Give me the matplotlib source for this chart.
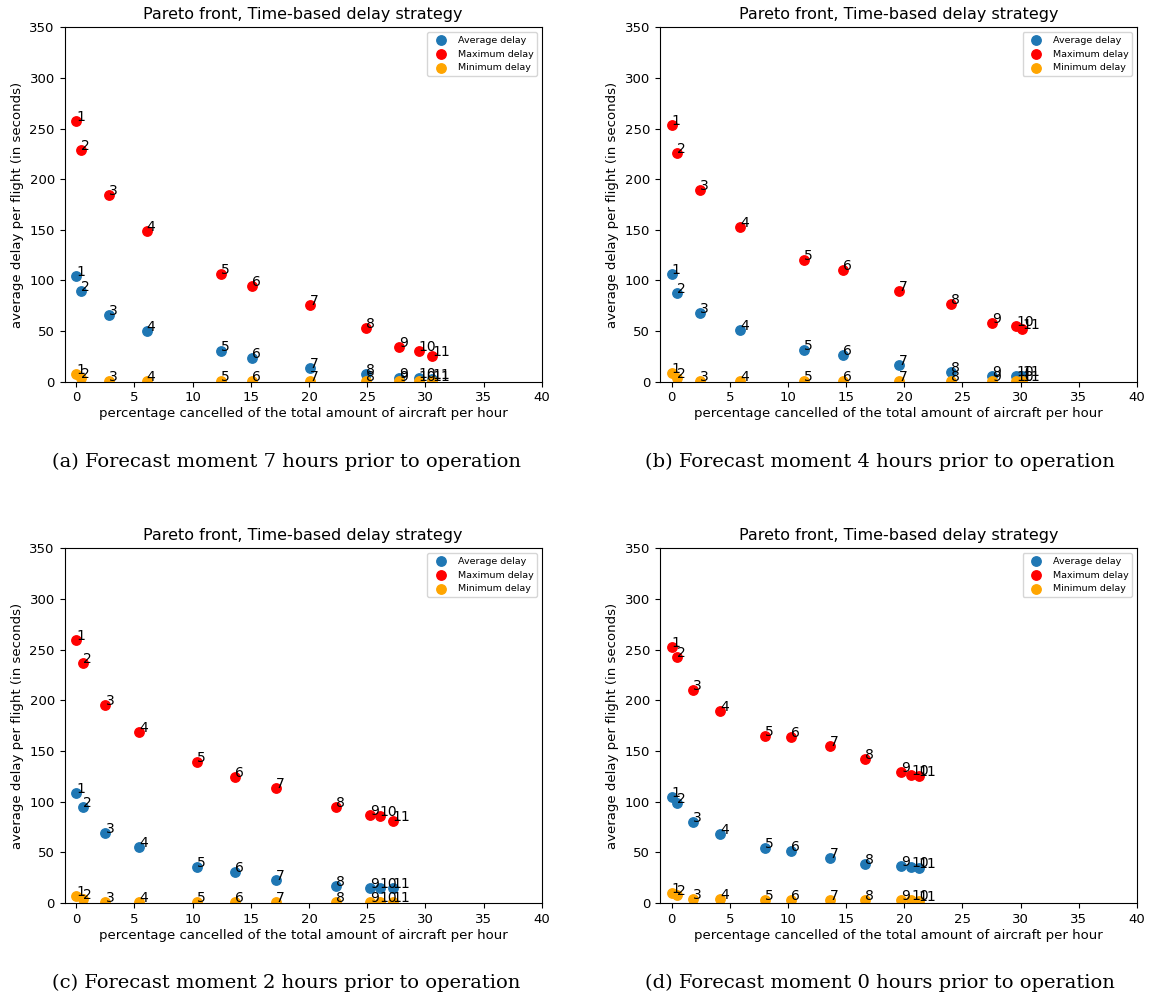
import matplotlib
matplotlib.use("Agg")
import matplotlib.pyplot as plt

# point labels 1..11
labels = [str(i) for i in range(1, 12)]

# (a) 7 hours prior
x_a = [0, 0.46, 2.85, 6.05, 12.43, 15.07, 20.1, 24.9, 27.72, 29.44, 30.6]
max_a = [257, 229, 184, 149, 106, 94.5, 75.5, 53.5, 34.5, 30, 25]
avg_a = [104, 89.5, 66, 50, 30, 23, 14, 7.5, 3.5, 3.5, 3]
min_a = [8, 4, 1, 1, 1, 1, 1, 1, 1, 1, 1]

# (b) 4 hours prior
x_b = [0, 0.5, 2.46, 5.88, 11.37, 14.72, 19.53, 24.04, 27.55, 29.6, 30.14]
max_b = [254, 226, 189, 153, 120, 110.5, 90, 77, 57.5, 55, 52]
avg_b = [106, 88, 68, 51, 31.5, 26, 16.5, 10, 6, 6, 6]
min_b = [9, 4, 1, 1, 1, 1, 1, 1, 1, 1, 1]

# (c) 2 hours prior
x_c = [0, 0.58, 2.52, 5.4, 10.35, 13.63, 17.19, 22.32, 25.24, 26.07, 27.2]
max_c = [260, 237, 195.5, 169, 139, 124, 113, 94.5, 87, 86, 80.5]
avg_c = [109, 94.5, 69.5, 55, 36, 31, 22.5, 16.5, 15, 15, 14.5]
min_c = [7, 4, 1, 1, 1, 1, 1, 1, 1, 1, 1]

# (d) 0 hours prior
x_d = [0, 0.47, 1.86, 4.2, 8.06, 10.24, 13.62, 16.62, 19.69, 20.57, 21.23]
max_d = [253, 243, 210.5, 189.5, 165, 164, 154.5, 142, 129, 126, 125]
avg_d = [105, 98.5, 79.5, 68, 54, 51, 44, 38.5, 36.5, 36, 35]
min_d = [9.5, 8, 3.5, 3.5, 3, 3, 3, 3, 2.5, 2.5, 2]

captions = ["(a) Forecast moment 7 hours prior to operation",
            "(b) Forecast moment 4 hours prior to operation",
            "(c) Forecast moment 2 hours prior to operation",
            "(d) Forecast moment 0 hours prior to operation"]

panels = [(x_a, avg_a, max_a, min_a), (x_b, avg_b, max_b, min_b),
          (x_c, avg_c, max_c, min_c), (x_d, avg_d, max_d, min_d)]

W, H = 1152, 998
fig = plt.figure(figsize=(W / 100, H / 100), dpi=100)

# axes boxes in pixels: left, right, top, bottom
boxes = [(64.5, 541.8, 27.3, 381.7), (660, 1137, 27.3, 381.7),
         (64.5, 541.8, 548.3, 903), (660, 1137, 548.3, 903)]
cap_pos = [(286, 462), (880, 462), (286, 983), (880, 983)]

for (x, avg, mx, mn), (l, r, t, b), cap, (cx, cy) in zip(panels, boxes, captions, cap_pos):
    ax = fig.add_axes([l / W, 1 - b / H, (r - l) / W, (b - t) / H])
    ax.scatter(x, avg, s=46, color='#1f77b4', label='Average delay')
    ax.scatter(x, mx, s=46, color='red', label='Maximum delay')
    ax.scatter(x, mn, s=46, color='orange', label='Minimum delay')
    for series in (avg, mx, mn):
        for i, txt in enumerate(labels):
            ax.annotate(txt, (x[i], series[i]), fontsize=10)
    ax.set_xlim(-1, 40)
    ax.set_ylim(0, 350)
    ax.tick_params(labelsize=9.5)
    ax.set_title("Pareto front, Time-based delay strategy", fontsize=11.5)
    ax.set_xlabel("percentage cancelled of the total amount of aircraft per hour", fontsize=9.5, labelpad=2)
    ax.set_ylabel("average delay per flight (in seconds)", fontsize=9.5)
    ax.legend(loc='upper right', fontsize=6.8)
    fig.text(cx / W, 1 - cy / H, cap, family='DejaVu Serif', fontsize=14,
             ha='center', va='center')

fig.savefig("out.png", dpi=100)
